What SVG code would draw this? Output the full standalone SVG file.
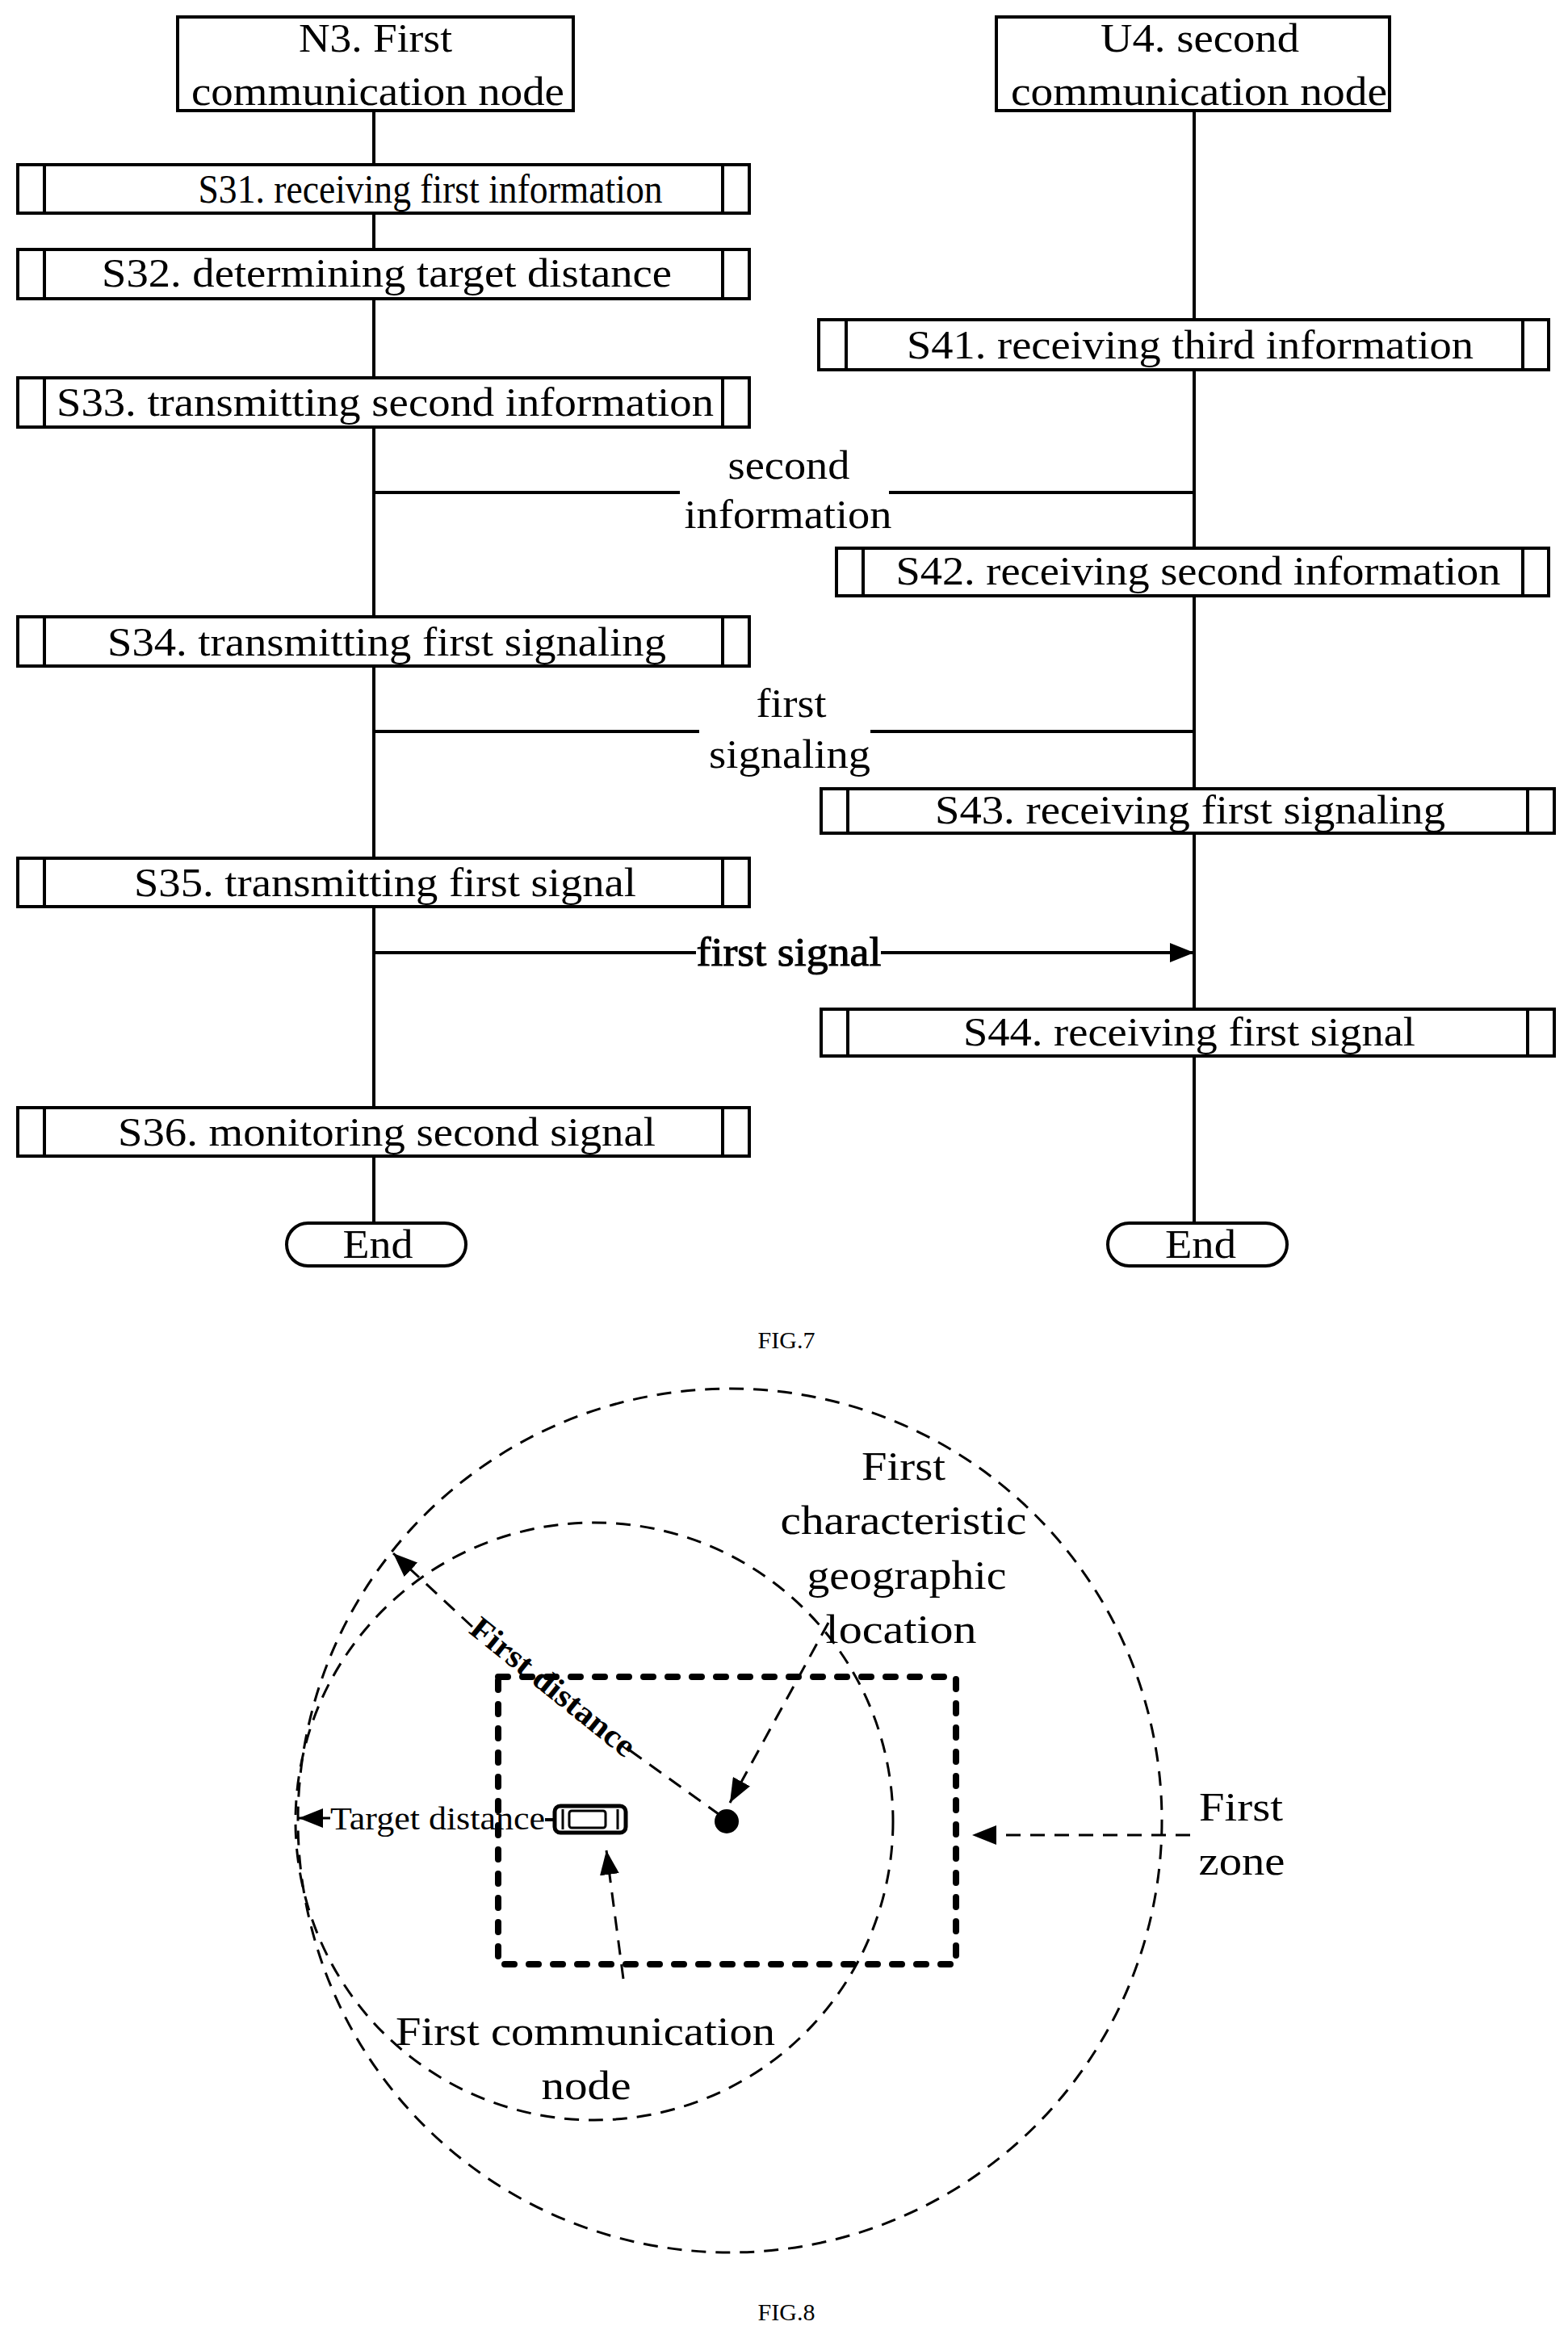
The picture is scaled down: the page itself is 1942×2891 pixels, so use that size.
<svg xmlns="http://www.w3.org/2000/svg" width="1942" height="2891" viewBox="0 0 1942 2891">
<style>
text{font-family:"Liberation Serif","Times New Roman",serif;fill:#000;text-anchor:middle}
.t{font-size:50px}
.s{font-size:40px}
.f{font-size:30px}
.b{fill:#fff;stroke:#000;stroke-width:4}
.l{stroke:#000;stroke-width:4;fill:none}
.d{stroke:#000;stroke-width:3;fill:none;stroke-dasharray:18 12}
</style>
<defs>
<marker id="a" markerWidth="10" markerHeight="8" refX="10" refY="4" orient="auto" markerUnits="userSpaceOnUse" viewBox="0 0 10 8"><path d="M0,0L10,4L0,8z"/></marker>
<marker id="h" viewBox="0 0 10 8" refX="10" refY="4" markerWidth="30" markerHeight="24" orient="auto" markerUnits="userSpaceOnUse"><path d="M0,0L10,4L0,8z"/></marker>
</defs>
<rect width="1942" height="2891" fill="#fff"/>
<g id="connectors">
<path class="l" d="M463,137V204M463,264V309M463,370V468M463,529V764M463,825V1063M463,1123V1372M1479,137V396M1479,458V679M1479,738V977M1479,1032V1250"/>
<path class="l" d="M463,1432V1515M1479,1308V1515M1101,610H1479M1078,906H1479M1091,1180H1479" marker-end="url(#h)"/>
<path class="l" d="M463,610H842M463,906H866M463,1180H862"/>
</g>
<g id="N3"><rect class="b" x="220" y="21" width="490" height="116"/><text class="t" x="465" y="64" textLength="190" lengthAdjust="spacingAndGlyphs">N3. First</text><text class="t" x="468" y="130" textLength="462" lengthAdjust="spacingAndGlyphs">communication node</text></g>
<g id="U4"><rect class="b" x="1234" y="21" width="487" height="116"/><text class="t" x="1486" y="64" textLength="246" lengthAdjust="spacingAndGlyphs">U4. second</text><text class="t" x="1485" y="130" textLength="466" lengthAdjust="spacingAndGlyphs">communication node</text></g>
<g id="S31"><rect class="b" x="22" y="204" width="906" height="60"/><path class="l" d="M55,204V264M895,204V264"/><text class="t" x="533" y="251" textLength="575" lengthAdjust="spacingAndGlyphs">S31. receiving first information</text></g>
<g id="S32"><rect class="b" x="22" y="309" width="906" height="61"/><path class="l" d="M55,309V370M895,309V370"/><text class="t" x="479" y="355" textLength="706" lengthAdjust="spacingAndGlyphs">S32. determining target distance</text></g>
<g id="S33"><rect class="b" x="22" y="468" width="906" height="61"/><path class="l" d="M55,468V529M895,468V529"/><text class="t" x="477" y="515" textLength="814" lengthAdjust="spacingAndGlyphs">S33. transmitting second information</text></g>
<g id="S34"><rect class="b" x="22" y="764" width="906" height="61"/><path class="l" d="M55,764V825M895,764V825"/><text class="t" x="479" y="812" textLength="692" lengthAdjust="spacingAndGlyphs">S34. transmitting first signaling</text></g>
<g id="S35"><rect class="b" x="22" y="1063" width="906" height="60"/><path class="l" d="M55,1063V1123M895,1063V1123"/><text class="t" x="477" y="1110" textLength="622" lengthAdjust="spacingAndGlyphs">S35. transmitting first signal</text></g>
<g id="S36"><rect class="b" x="22" y="1372" width="906" height="60"/><path class="l" d="M55,1372V1432M895,1372V1432"/><text class="t" x="479" y="1419" textLength="666" lengthAdjust="spacingAndGlyphs">S36. monitoring second signal</text></g>
<g id="S41"><rect class="b" x="1014" y="396" width="904" height="62"/><path class="l" d="M1048,396V458M1886,396V458"/><text class="t" x="1474" y="444" textLength="702" lengthAdjust="spacingAndGlyphs">S41. receiving third information</text></g>
<g id="S42"><rect class="b" x="1036" y="679" width="882" height="59"/><path class="l" d="M1069,679V738M1886,679V738"/><text class="t" x="1484" y="724" textLength="749" lengthAdjust="spacingAndGlyphs">S42. receiving second information</text></g>
<g id="S43"><rect class="b" x="1017" y="977" width="908" height="55"/><path class="l" d="M1050,977V1032M1892,977V1032"/><text class="t" x="1474" y="1020" textLength="632" lengthAdjust="spacingAndGlyphs">S43. receiving first signaling</text></g>
<g id="S44"><rect class="b" x="1017" y="1250" width="908" height="58"/><path class="l" d="M1050,1250V1308M1892,1250V1308"/><text class="t" x="1473" y="1295" textLength="560" lengthAdjust="spacingAndGlyphs">S44. receiving first signal</text></g>
<g id="lbl1"><text class="t" x="977" y="593" textLength="151" lengthAdjust="spacingAndGlyphs">second</text><text class="t" x="976" y="654" textLength="257" lengthAdjust="spacingAndGlyphs">information</text></g>
<g id="lbl2"><text class="t" x="980" y="888" textLength="87" lengthAdjust="spacingAndGlyphs">first</text><text class="t" x="978" y="951" textLength="200" lengthAdjust="spacingAndGlyphs">signaling</text></g>
<g id="lbl3"><text class="t" x="977" y="1196" textLength="229" lengthAdjust="spacingAndGlyphs" style="stroke:#000;stroke-width:1">first signal</text></g>
<g id="End1"><rect class="b" x="355" y="1515" width="222" height="53" rx="26.5"/><text class="t" x="468" y="1558" textLength="87" lengthAdjust="spacingAndGlyphs">End</text></g>
<g id="End2"><rect class="b" x="1372" y="1515" width="222" height="53" rx="26.5"/><text class="t" x="1487" y="1558" textLength="88" lengthAdjust="spacingAndGlyphs">End</text></g>
<text class="f" x="974" y="1670">FIG.7</text>
<g id="fig8">
<circle class="d" cx="904" cy="2255" r="535"/>
<circle class="d" cx="736" cy="2256" r="370"/>
<rect x="617" y="2077" width="567" height="356" fill="none" stroke="#000" stroke-width="8" stroke-linecap="round" stroke-dasharray="12 18"/>
<circle cx="900" cy="2256" r="15"/>
<g id="car" fill="none" stroke="#000"><rect x="687" y="2237" width="88" height="33" rx="7" stroke-width="5"/><rect x="705" y="2243" width="45" height="21" rx="3" stroke-width="3"/><path d="M697,2241V2266M765,2241V2266" stroke-width="3"/></g>
<path class="l" d="M675,2254H687" stroke-width="3"/>
<path d="M409,2252H370" stroke="#000" stroke-width="3" marker-end="url(#h)"/>
<text class="s" x="542" y="2266" textLength="266" lengthAdjust="spacingAndGlyphs">Target distance</text>
<path class="d" d="M585,2015L487,1924" marker-end="url(#h)"/>
<path class="d" d="M780,2168L890,2247"/>
<text class="s" x="683" y="2102" transform="rotate(38.8 683 2092)" style="font-weight:bold" textLength="250" lengthAdjust="spacingAndGlyphs">First distance</text>
<path class="d" d="M1026,2010L904,2233" marker-end="url(#h)"/>
<path class="d" d="M1474,2273H1204" marker-end="url(#h)"/>
<path class="d" d="M772,2451L751,2292" marker-end="url(#h)"/>
<text class="t" x="1119" y="1833" textLength="104" lengthAdjust="spacingAndGlyphs">First</text>
<text class="t" x="1119" y="1900" textLength="305" lengthAdjust="spacingAndGlyphs">characteristic</text>
<text class="t" x="1123" y="1968" textLength="247" lengthAdjust="spacingAndGlyphs">geographic</text>
<text class="t" x="1116" y="2035" textLength="187" lengthAdjust="spacingAndGlyphs">location</text>
<text class="t" x="1537" y="2255" textLength="104" lengthAdjust="spacingAndGlyphs">First</text>
<text class="t" x="1538" y="2322" textLength="107" lengthAdjust="spacingAndGlyphs">zone</text>
<text class="t" x="725" y="2533" textLength="470" lengthAdjust="spacingAndGlyphs">First communication</text>
<text class="t" x="726" y="2600" textLength="111" lengthAdjust="spacingAndGlyphs">node</text>
</g>
<text class="f" x="974" y="2874">FIG.8</text>
</svg>
